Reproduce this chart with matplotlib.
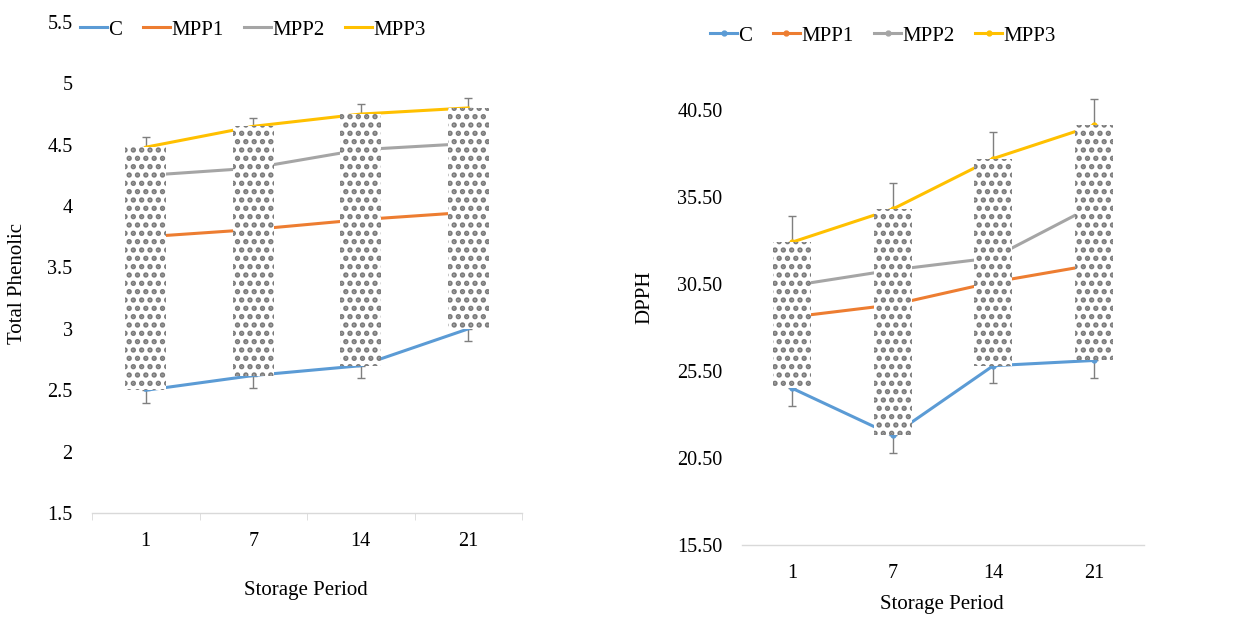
import matplotlib.pyplot as plt
import numpy as np

plt.rcParams['font.family'] = ['Liberation Serif', 'DejaVu Serif']
plt.rcParams['hatch.linewidth'] = 2.6

days = ['1', '7', '14', '21']
series = ['C', 'MPP1', 'MPP2', 'MPP3']
colors = ['#5B9BD5', '#ED7D31', '#A5A5A5', '#FFC000']

# Total Phenolic
tp_c = [2.50, 2.62, 2.70, 3.00]
tp_mpp1 = [3.75, 3.81, 3.89, 3.95]
tp_mpp2 = [4.25, 4.31, 4.46, 4.51]
tp_mpp3 = [4.48, 4.65, 4.75, 4.80]
tp_err_c = [0.10, 0.10, 0.10, 0.10]
tp_err_mpp3 = [0.08, 0.07, 0.08, 0.08]

# DPPH
dp_c = [24.5, 21.8, 25.8, 26.1]
dp_mpp1 = [28.6, 29.3, 30.6, 31.6]
dp_mpp2 = [30.4, 31.3, 32.0, 35.0]
dp_mpp3 = [32.9, 34.8, 37.7, 39.6]
dp_err_c = [1.0, 1.0, 1.0, 1.0]
dp_err_mpp3 = [1.5, 1.5, 1.5, 1.5]

W, H = 1236, 621
fig = plt.figure(figsize=(W / 100, H / 100), dpi=100)


def px_axes(x0, x1, y_top, y_bot):
    return fig.add_axes([x0 / W, 1 - y_bot / H, (x1 - x0) / W, (y_bot - y_top) / H])


def draw_panel(ax, data, err_c, err_top, marker):
    x = np.arange(len(days))
    for vals, col, name in zip(data, colors, series):
        ax.plot(x, vals, color=col, lw=2.2, marker=marker, ms=3.5, label=name, zorder=2)
    ax.errorbar(x, data[0], yerr=[err_c, np.zeros(4)], fmt='none', ecolor='#7f7f7f',
                elinewidth=1, capsize=3, capthick=1, zorder=1)
    ax.errorbar(x, data[-1], yerr=[np.zeros(4), err_top], fmt='none', ecolor='#7f7f7f',
                elinewidth=1, capsize=3, capthick=1, zorder=1)
    lo = np.array(data[0])
    hi = np.array(data[-1])
    ax.bar(x, hi - lo, bottom=lo, width=0.38, facecolor='white', edgecolor='#7a7a7a',
           hatch='..', linewidth=0, zorder=3)
    ax.set_xlim(-0.5, len(days) - 0.5)
    ax.set_xticks(x)
    ax.set_xticklabels(days)
    for s in ['top', 'right', 'left']:
        ax.spines[s].set_visible(False)
    ax.spines['bottom'].set_color('#d9d9d9')
    ax.spines['bottom'].set_linewidth(1)
    ax.tick_params(axis='y', length=0, labelsize=14.5, pad=14)
    ax.tick_params(axis='x', which='major', length=0, labelsize=14.5, pad=14)


# left panel
ax1 = px_axes(92, 522, 22, 513)
draw_panel(ax1, [tp_c, tp_mpp1, tp_mpp2, tp_mpp3], tp_err_c, tp_err_mpp3, None)
ax1.set_ylim(1.5, 5.5)
ax1.set_yticks(np.arange(1.5, 5.51, 0.5))
ax1.set_yticklabels(['1.5', '2', '2.5', '3', '3.5', '4', '4.5', '5', '5.5'])
ax1.set_xticks(np.arange(-0.5, 3.6, 1), minor=True)
ax1.tick_params(axis='x', which='minor', length=5, color='#d9d9d9')
ax1.legend(loc='center left', bbox_to_anchor=(80 / W, 1 - 30 / H), bbox_transform=fig.transFigure,
           ncol=4, frameon=False, fontsize=15, handlelength=1.3, handletextpad=0.05,
           columnspacing=1.0, borderaxespad=0, borderpad=0)
fig.text(18 / W, 1 - 284 / H, 'Total Phenolic', rotation=90, ha='center', va='center', fontsize=15)
fig.text(306 / W, 1 - 590 / H, 'Storage Period', ha='center', va='center', fontsize=15)

# right panel
ax2 = px_axes(742, 1144, 75, 545)
draw_panel(ax2, [dp_c, dp_mpp1, dp_mpp2, dp_mpp3], dp_err_c, dp_err_mpp3, 'o')
ax2.set_ylim(15.5, 42.5)
ax2.set_yticks(np.arange(15.5, 40.51, 5))
ax2.yaxis.set_major_formatter(lambda v, pos: f'{v:.2f}')
ax2.legend(loc='center left', bbox_to_anchor=(710 / W, 1 - 36 / H), bbox_transform=fig.transFigure,
           ncol=4, frameon=False, fontsize=15, handlelength=1.3, handletextpad=0.05,
           columnspacing=1.0, borderaxespad=0, borderpad=0)
fig.text(645 / W, 1 - 297 / H, 'DPPH', rotation=90, ha='center', va='center', fontsize=15)
fig.text(942 / W, 1 - 605 / H, 'Storage Period', ha='center', va='center', fontsize=15)

fig.savefig('out.png', dpi=100)
